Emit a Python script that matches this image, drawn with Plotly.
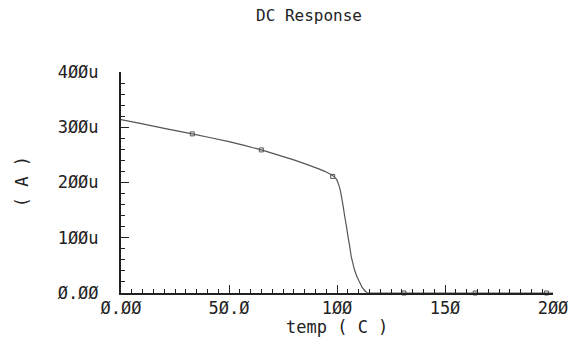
import plotly.graph_objects as go

# Curve data (temp in C, current in A)
temp = [0, 10, 20, 33, 50, 65, 80, 90, 95, 97, 98.5, 99.7, 100.6, 101.4, 102.1, 102.9, 103.6, 104.4, 105.1, 105.9,
        106.6, 107.4, 108.1, 109.2, 110.4, 111.5, 112.7, 113.5, 114.2, 120, 150, 200]
current_u = [314, 306, 298, 288, 274, 259, 241, 227, 219, 215, 211, 206, 198, 188, 174, 156, 138, 120, 102, 84,
             66, 53, 42, 30, 20, 11, 5, 2, 0, 0, 0, 0]

marker_temp = [33, 65, 98, 131, 164, 197]
marker_u = [288, 259, 211, 0, 0, 0]

x_tickvals = [0, 50, 100, 150, 200]
x_ticktext = ["Ø.ØØ", "5Ø.Ø", "1ØØ", "15Ø", "2ØØ"]
y_tickvals_u = [0, 100, 200, 300, 400]
y_ticktext = ["Ø.ØØ", "1ØØu", "2ØØu", "3ØØu", "4ØØu"]

current = [v * 1e-6 for v in current_u]
marker_current = [v * 1e-6 for v in marker_u]
y_tickvals = [v * 1e-6 for v in y_tickvals_u]

FONT = "DejaVu Sans Mono"
fig = go.Figure()
fig.add_trace(go.Scatter(x=temp, y=current, mode="lines", line=dict(color="#555555", width=1.2, shape="spline", smoothing=0.3),
                         cliponaxis=False, showlegend=False))
fig.add_trace(go.Scatter(x=marker_temp, y=marker_current, mode="markers",
                         marker=dict(symbol="square-open", size=4, color="#555555", line=dict(width=1)),
                         cliponaxis=False, showlegend=False))

axis_common = dict(showgrid=False, zeroline=False, showline=True, linecolor="#222222", linewidth=2,
                   ticks="inside", ticklen=8, tickwidth=1, tickcolor="#222222",
                   tickfont=dict(family=FONT, size=17, color="#222222"))
fig.update_xaxes(range=[0, 200], tickvals=x_tickvals, ticktext=x_ticktext, ticklabelstandoff=-1,
                 minor=dict(dtick=5, tick0=0, ticks="inside", ticklen=4, tickcolor="#222222"), **axis_common)
fig.update_yaxes(range=[0, 400e-6], tickvals=y_tickvals, ticktext=y_ticktext, ticklabelstandoff=17,
                 minor=dict(dtick=20e-6, tick0=0, ticks="inside", ticklen=4, tickcolor="#222222"), **axis_common)

fig.update_layout(
    width=580, height=343, plot_bgcolor="white", paper_bgcolor="white",
    margin=dict(l=121, r=17, t=72, b=50),
    annotations=[
        dict(text="DC Response", xref="paper", yref="paper", x=(313 - 121) / 442, y=1 + (72 - 15) / 221,
             showarrow=False, xanchor="center", yanchor="middle", font=dict(family=FONT, size=16, color="#222222")),
        dict(text="temp ( C )", xref="paper", yref="paper", x=0.5, y=-(327 - 293) / 221,
             showarrow=False, xanchor="center", yanchor="middle", font=dict(family=FONT, size=17, color="#222222")),
        dict(text="( A )", xref="paper", yref="paper", x=-(121 - 20) / 442, y=(293 - 182) / 221, textangle=-90,
             showarrow=False, xanchor="center", yanchor="middle", font=dict(family=FONT, size=17, color="#222222")),
    ],
)
fig.write_html("out.html")
